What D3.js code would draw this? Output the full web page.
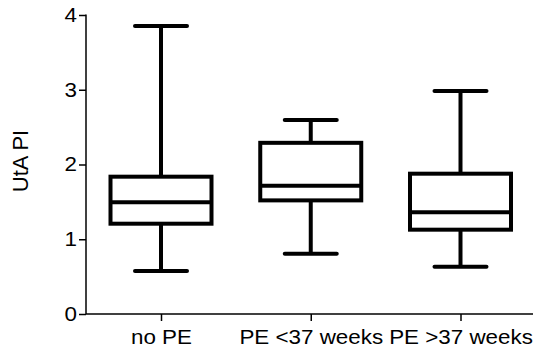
<!DOCTYPE html>
<html>
<head>
<meta charset="utf-8">
<script src="https://cdn.jsdelivr.net/npm/d3@7"></script>
<style>
  body { margin: 0; background: #fff; }
  text { font-family: "Liberation Sans", Arial, sans-serif; }
</style>
</head>
<body>
<svg id="canvas"></svg>
<script>
let categories = ["no PE", "PE <37 weeks", "PE >37 weeks"];
let whiskerLow = [0.575, 0.807, 0.633];
let q1 = [1.208, 1.52, 1.128];
let median = [1.494, 1.716, 1.36];
let q3 = [1.837, 2.29, 1.877];
let whiskerHigh = [3.853, 2.595, 2.983];
let yTicks = [0, 1, 2, 3, 4];

let width = 533;
let height = 349;
let plotLeft = 86;
let plotTop = 15;
let plotBottom = 314;
let stretch = 1.12;

let canvas = d3.select("#canvas").attr("width", width).attr("height", height);

let xScale = d3.scalePoint().domain(categories).range([161, 460.5]);
let yScale = d3.scaleLinear().domain([0, 4]).range([plotBottom, plotTop]);

let boxW = 101;
let capW = 52;

let data = categories.map((c, i) => ({
  cat: c, lo: whiskerLow[i], q1: q1[i], med: median[i], q3: q3[i], hi: whiskerHigh[i]
}));

let g = canvas.selectAll("g.box").data(data).enter().append("g").attr("class", "box");

// whiskers
g.append("line")
  .attr("x1", d => xScale(d.cat)).attr("x2", d => xScale(d.cat))
  .attr("y1", d => yScale(d.hi)).attr("y2", d => yScale(d.q3))
  .attr("stroke", "#000").attr("stroke-width", 4);
g.append("line")
  .attr("x1", d => xScale(d.cat)).attr("x2", d => xScale(d.cat))
  .attr("y1", d => yScale(d.q1)).attr("y2", d => yScale(d.lo))
  .attr("stroke", "#000").attr("stroke-width", 4);
// caps
["hi", "lo"].forEach(k => {
  g.append("line")
    .attr("x1", d => xScale(d.cat) - capW / 2).attr("x2", d => xScale(d.cat) + capW / 2)
    .attr("y1", d => yScale(d[k])).attr("y2", d => yScale(d[k]))
    .attr("stroke", "#000").attr("stroke-width", 4).attr("stroke-linecap", "round");
});
// box
g.append("rect")
  .attr("x", d => xScale(d.cat) - boxW / 2)
  .attr("y", d => yScale(d.q3))
  .attr("width", boxW)
  .attr("height", d => yScale(d.q1) - yScale(d.q3))
  .attr("fill", "#fff").attr("stroke", "#000").attr("stroke-width", 4);
// median
g.append("line")
  .attr("x1", d => xScale(d.cat) - boxW / 2).attr("x2", d => xScale(d.cat) + boxW / 2)
  .attr("y1", d => yScale(d.med)).attr("y2", d => yScale(d.med))
  .attr("stroke", "#000").attr("stroke-width", 4);

// axes
let yAxis = d3.axisLeft(yScale).tickValues(yTicks).tickFormat(d3.format("d")).tickSize(7).tickPadding(2);
let yG = canvas.append("g").attr("transform", "translate(" + plotLeft + ",0)").call(yAxis);
yG.select(".domain").attr("d", "M0," + (plotTop - 0.5) + "V" + plotBottom).attr("stroke-width", 1.5);
yG.selectAll(".tick line").attr("stroke-width", 1.5);
yG.selectAll("text")
  .attr("font-size", 20).attr("fill", "#000")
  .attr("x", -9 / stretch)
  .attr("transform", "scale(" + stretch + ",1)");

let xAxis = d3.axisBottom(xScale).tickSize(7).tickPadding(4);
let xG = canvas.append("g").attr("transform", "translate(0," + plotBottom + ")").call(xAxis);
xG.select(".domain").attr("d", "M" + plotLeft + ",0H" + width).attr("stroke-width", 1.5);
xG.selectAll(".tick line").attr("stroke-width", 1.5);
xG.selectAll("text")
  .attr("font-size", 20).attr("fill", "#000")
  .attr("dy", null).attr("y", 30)
  .attr("transform", "scale(" + stretch + ",1)");

canvas.append("text")
  .attr("transform", "translate(28," + 161 + ") rotate(-90)")
  .attr("text-anchor", "middle")
  .attr("font-size", 22)
  .text("UtA PI");
</script>
</body>
</html>
